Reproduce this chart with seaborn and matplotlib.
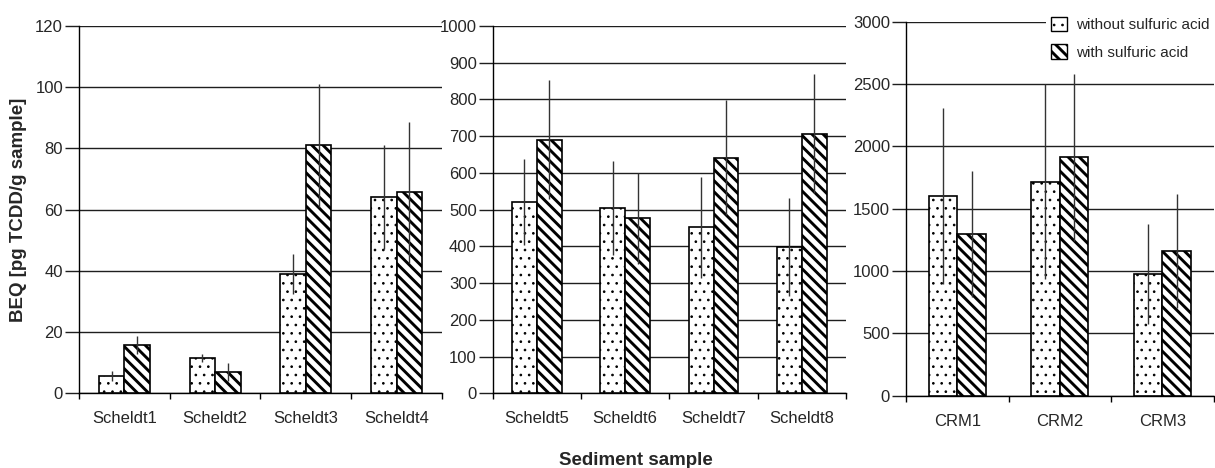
import matplotlib
matplotlib.use("Agg")
import matplotlib.pyplot as plt
from matplotlib.patches import Patch
import seaborn as sns
import pandas as pd

# Sample names per panel
samples_a = ["Scheldt1", "Scheldt2", "Scheldt3", "Scheldt4"]
samples_b = ["Scheldt5", "Scheldt6", "Scheldt7", "Scheldt8"]
samples_c = ["CRM1", "CRM2", "CRM3"]

treatments = ["without sulfuric acid", "with sulfuric acid"]

# Mean BEQ values [pg TCDD/g sample]
without_a = [5.7, 11.6, 39.0, 64.0]
with_a = [15.8, 6.9, 81.0, 65.7]
without_b = [521, 505, 452, 399]
with_b = [691, 476, 642, 707]
without_c = [1602, 1717, 976]
with_c = [1294, 1912, 1160]

# Standard deviations
sd_without_a = [1.7, 1.3, 6.5, 17.0]
sd_with_a = [2.9, 2.9, 20.0, 23.0]
sd_without_b = [116, 128, 137, 133]
sd_with_b = [162, 123, 157, 162]
sd_without_c = [708, 780, 400]
sd_with_c = [506, 670, 455]

ymax_a, ystep_a = 120, 20
ymax_b, ystep_b = 1000, 100
ymax_c, ystep_c = 3000, 500

sns.set_style("white")
plt.rcParams["font.family"] = ["Liberation Sans", "DejaVu Sans"]
plt.rcParams["hatch.linewidth"] = 2.0
plt.rcParams["hatch.color"] = "black"

TXT = "#262626"
GRID = "#1e1e1e"
HATCHES = ["..", "\\\\\\"]
HATCH_LW = [0.7, 2.1]


def style_hatch(patch, hatch, lw):
    patch.set_hatch(hatch)
    if hasattr(patch, "set_hatch_linewidth"):
        patch.set_hatch_linewidth(lw)
    else:
        patch._hatch_linewidth = lw


def long_frame(samples, wo, wi, sd_wo, sd_wi):
    rows = []
    for s, a, b, sa, sb in zip(samples, wo, wi, sd_wo, sd_wi):
        rows.append({"sample": s, "treatment": treatments[0], "beq": a, "sd": sa})
        rows.append({"sample": s, "treatment": treatments[1], "beq": b, "sd": sb})
    return pd.DataFrame(rows)


def draw_panel(ax, df, samples, ymax, ystep):
    sns.barplot(data=df, x="sample", y="beq", hue="treatment",
                order=samples, hue_order=treatments,
                palette=["white", "white"], edgecolor="black", linewidth=1.2,
                width=0.56, errorbar=None, legend=False, ax=ax, zorder=3)
    for cont, hatch, hlw, level in zip(ax.containers, HATCHES, HATCH_LW, treatments):
        sub = df[df["treatment"] == level].set_index("sample").loc[samples]
        xs = []
        for bar in cont:
            style_hatch(bar, hatch, hlw)
            xs.append(bar.get_x() + bar.get_width() / 2)
        ax.errorbar(xs, sub["beq"].values, yerr=sub["sd"].values, fmt="none",
                    ecolor="#333333", elinewidth=1.0, capsize=0, zorder=4)

    n = len(samples)
    ax.set_xlim(-0.5, n - 0.5)
    ax.set_ylim(0, ymax)
    ax.set_yticks(range(0, ymax + 1, ystep))
    ax.yaxis.grid(True, color=GRID, linewidth=1.0, zorder=0)
    ax.set_axisbelow(True)

    ax.set_xticks([i - 0.5 for i in range(n + 1)])
    ax.set_xticklabels([])
    ax.set_xticks(list(range(n)), minor=True)
    ax.set_xticklabels(samples, minor=True)
    ax.tick_params(axis="x", which="major", direction="out", length=4,
                   width=1.0, color="black", bottom=True)
    ax.tick_params(axis="x", which="minor", length=0, pad=13,
                   labelsize=12, labelcolor=TXT)
    ax.tick_params(axis="y", direction="out", length=10, width=1.0,
                   color=GRID, pad=1.5, labelsize=12, labelcolor=TXT, left=True)

    for side in ("top", "right"):
        ax.spines[side].set_visible(False)
    for side in ("left", "bottom"):
        ax.spines[side].set_color("black")
        ax.spines[side].set_linewidth(1.0)
    ax.set_xlabel("")
    ax.set_ylabel("")


fig = plt.figure(figsize=(12.15, 4.68), dpi=100)
ax1 = fig.add_axes([0.0650, 0.1596, 0.2988, 0.7848])
ax2 = fig.add_axes([0.4055, 0.1596, 0.2908, 0.7848])
ax3 = fig.add_axes([0.7457, 0.1545, 0.2531, 0.7990])

draw_panel(ax1, long_frame(samples_a, without_a, with_a, sd_without_a, sd_with_a),
           samples_a, ymax_a, ystep_a)
draw_panel(ax2, long_frame(samples_b, without_b, with_b, sd_without_b, sd_with_b),
           samples_b, ymax_b, ystep_b)
draw_panel(ax3, long_frame(samples_c, without_c, with_c, sd_without_c, sd_with_c),
           samples_c, ymax_c, ystep_c)

fig.text(0.015, 0.552, "BEQ [pg TCDD/g sample]", rotation=90, ha="center",
         va="center", fontsize=13.5, fontweight="bold", color=TXT)
fig.text(0.523, 1 - 452 / 468, "Sediment sample", ha="center", va="top",
         fontsize=13.5, fontweight="bold", color=TXT)

handles = [Patch(facecolor="white", edgecolor="black", linewidth=1.0, hatch=h)
           for h in HATCHES]
leg = fig.legend(handles, treatments, loc="upper left",
                 bbox_to_anchor=(1046 / 1215, 1 - 12 / 468),
                 frameon=True, fontsize=11, handlelength=1.05, handleheight=1.1,
                 handletextpad=0.6, labelspacing=0.8, borderpad=0.3,
                 borderaxespad=0.0, fancybox=False)
leg.get_frame().set_facecolor("white")
leg.get_frame().set_edgecolor("none")
leg.get_frame().set_alpha(1.0)
for t in leg.get_texts():
    t.set_color(TXT)
for p, h, hlw in zip(leg.get_patches(), HATCHES, HATCH_LW):
    style_hatch(p, h, hlw)

fig.savefig("out.png", dpi=100)
